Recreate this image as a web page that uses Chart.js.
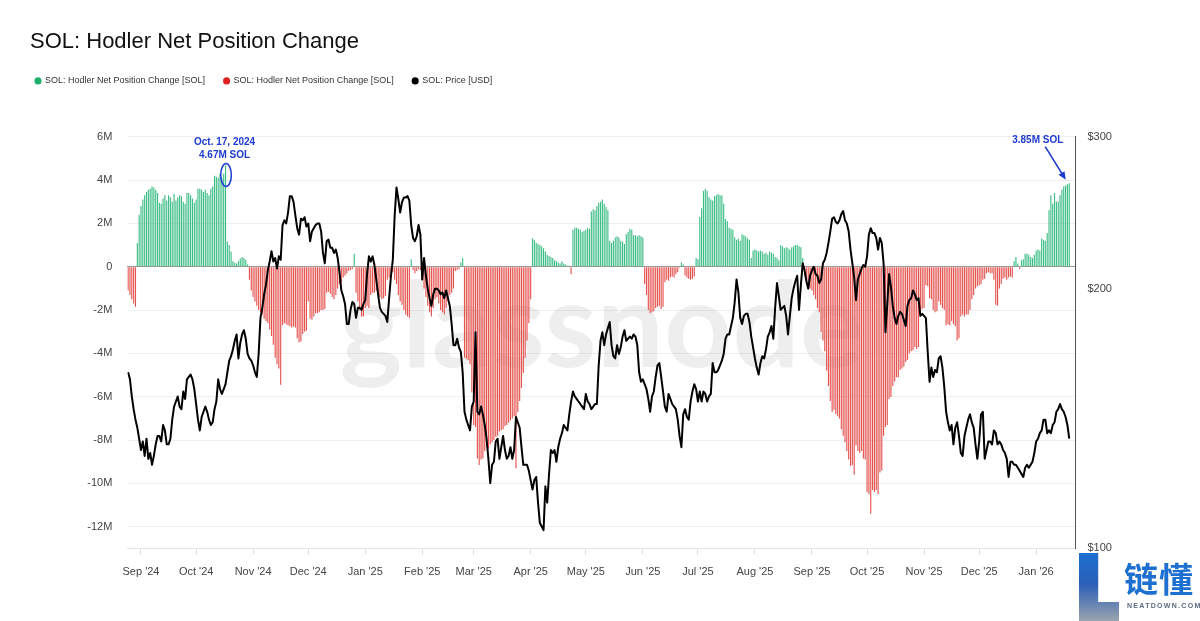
<!DOCTYPE html>
<html lang="en">
<head>
<meta charset="utf-8">
<title>SOL: Hodler Net Position Change</title>
<script src="https://cdn.jsdelivr.net/npm/chart.js@4.4.1/dist/chart.umd.min.js"></script>
<style>
	html, body { margin:0; padding:0; background:#fff; }
	#wrap { position:relative; width:1200px; height:621px; overflow:hidden; }
	#chart { display:block; }
	.brand-l { position:absolute; left:1079px; top:553px; width:40px; height:68px;
		background:linear-gradient(180deg, #1f6fd1 0%, #2a5fb8 45%, #9aa3ad 100%);
		clip-path:polygon(0 0, 48% 0, 48% 72%, 100% 72%, 100% 100%, 0 100%); }
	.brand-cn { position:absolute; left:1124px; top:556px; font:700 34px "Noto Sans CJK SC", sans-serif; color:#1d6fd0; letter-spacing:1px; line-height:44px; }
	.brand-en { position:absolute; left:1127px; top:602px; font:700 7px "Liberation Sans", Arial, sans-serif; color:#5b6b80; letter-spacing:1.3px; }
</style>
</head>
<body>
<div id="wrap">
	<canvas id="chart" width="1200" height="621"></canvas>
	<div class="brand-l"></div>
	<div class="brand-cn">链懂</div>
	<div class="brand-en">NEATDOWN.COM</div>
</div>
<script>
// Daily series, first value = Aug 25, 2024 (day -7; day 0 = Sep 1, 2024)
const FIRST_DAY = -7;

// Hodler net position change, million SOL per day
const netChange = [
	-1.1,-1.3,-1.5,-1.7,-1.85,1.1,2.4,
	2.8,3.1,3.3,3.45,3.55,3.6,3.7,3.65,3.55,3.4,
	2.95,2.9,3.15,3.3,3.05,3.3,3.2,3.0,3.35,3.05,
	3.2,3.3,3.25,3.0,2.9,3.4,3.4,3.3,3.15,2.95,
	3.1,3.6,3.6,3.55,3.45,3.55,3.4,3.3,3.6,3.7,
	4.2,4.15,4.1,4.3,4.1,4.3,4.67,1.15,1.0,0.7,
	0.25,0.18,0.15,0.25,0.38,0.45,0.4,0.32,0.1,-0.6,
	-1.1,-1.4,-1.6,-1.8,-2.0,-2.1,-2.2,-2.4,-2.5,-2.6,
	-2.9,-3.2,-3.6,-4.2,-4.5,-4.7,-5.45,-2.7,-2.6,-2.65,
	-2.7,-2.75,-2.8,-2.75,-2.8,-3.3,-3.5,-3.45,-3.1,-3.0,
	-2.95,-1.6,-2.4,-2.45,-2.3,-2.15,-2.15,-2.1,-2.0,-2.0,
	-1.95,-1.2,-1.15,-1.25,-1.4,-1.5,-1.3,-1.0,-0.8,-0.7,
	-0.5,-0.4,-0.3,-0.2,-0.15,-0.1,0.6,-1.2,-1.6,-2.0,
	-2.3,-2.3,-1.9,-1.8,-1.9,-1.3,-1.2,-1.2,-1.1,-1.3,
	-1.4,-1.5,-1.45,-1.35,-0.6,-0.5,-0.3,-0.25,-0.6,-0.8,
	-1.3,-1.6,-1.75,-2.0,-2.2,-2.3,-2.35,0.35,-0.15,-0.3,
	-0.2,-0.1,-0.15,-0.6,-1.0,-1.4,-1.8,-2.1,-2.3,-1.9,
	-1.5,-1.4,-1.7,-2.0,-2.1,-2.2,-1.9,-1.6,-1.3,-1.2,
	-1.0,-0.2,-0.15,-0.1,0.2,0.4,-4.2,-4.25,-4.3,-4.5,
	-5.8,-7.3,-7.4,-8.85,-9.15,-8.9,-8.85,-8.5,-8.3,-8.4,
	-8.2,-8.1,-8.0,-7.85,-7.8,-7.6,-7.55,-7.5,-7.35,-7.3,
	-7.2,-7.1,-7.0,-6.9,-9.3,-6.7,-6.2,-5.6,-4.9,-4.2,
	-3.4,-2.6,-1.5,1.3,1.25,1.1,1.05,1.0,0.95,0.85,
	0.7,0.55,0.5,0.45,0.4,0.3,0.25,0.2,0.15,0.25,
	0.15,0.1,0.05,0.05,-0.35,1.7,1.8,1.8,1.75,1.7,
	1.6,1.65,1.7,1.8,1.75,2.55,2.65,2.6,2.8,2.95,
	3.0,3.1,2.9,2.75,2.6,1.2,1.1,1.2,1.35,1.4,
	1.35,1.2,1.15,1.05,1.5,1.6,1.75,1.7,1.45,1.45,
	1.4,1.45,1.4,1.35,-0.8,-1.3,-2.0,-2.15,-2.1,-2.05,
	-1.9,-1.85,-1.8,-1.95,-1.85,-0.7,-0.6,-0.65,-0.5,-0.45,
	-0.5,-0.35,-0.25,-0.05,0.2,0.1,-0.4,-0.5,-0.55,-0.6,
	-0.55,-0.45,0.4,0.35,2.3,2.7,3.5,3.6,3.5,3.2,
	3.1,3.05,3.25,3.3,3.35,3.3,3.3,2.9,2.2,2.1,
	1.8,1.75,1.7,1.35,1.25,1.3,1.2,1.5,1.45,1.4,
	1.3,1.25,0.4,0.75,0.8,0.75,0.7,0.75,0.7,0.6,
	0.65,0.55,0.7,0.65,0.6,0.45,0.4,0.3,1.0,0.95,
	0.85,0.9,0.85,0.8,0.9,0.95,1.0,1.0,0.95,0.9,
	0.4,-0.4,-0.6,-0.8,-1.0,-1.1,-1.3,-1.5,-1.9,-2.1,
	-3.0,-3.4,-3.9,-4.8,-5.5,-6.2,-6.7,-6.6,-6.8,-6.9,
	-7.0,-7.5,-7.8,-8.1,-8.5,-8.9,-9.2,-9.15,-9.6,-8.25,
	-8.5,-8.6,-8.5,-8.85,-8.9,-10.4,-10.5,-11.4,-10.3,-10.4,
	-10.3,-10.5,-9.5,-9.4,-7.8,-7.4,-7.3,-6.1,-6.0,-5.5,
	-5.3,-5.1,-5.1,-4.75,-4.7,-4.6,-4.4,-4.3,-4.0,-3.9,
	-3.85,-3.7,-3.8,-3.7,-2.1,-1.95,-1.9,-0.85,-0.9,-1.45,
	-1.5,-2.0,-2.1,-2.05,-1.6,-1.75,-1.9,-2.0,-2.7,-2.65,
	-2.7,-2.5,-2.65,-2.75,-3.4,-3.3,-2.3,-2.2,-2.3,-2.2,
	-2.2,-2.0,-1.5,-1.3,-1.0,-0.9,-0.85,-0.8,-0.6,-0.55,
	-0.3,-0.25,-0.3,-0.3,-0.6,-1.75,-1.8,-1.0,-0.8,-0.55,
	-0.5,-0.6,-0.5,-0.45,-0.5,0.25,0.45,0.15,-0.1,0.3,
	0.35,0.6,0.6,0.55,0.45,0.4,0.55,0.75,0.8,0.75,
	1.3,1.25,1.2,1.55,2.6,3.3,2.9,3.4,3.0,3.0,
	3.3,3.55,3.7,3.75,3.8,3.85
];

// SOL price, USD
const price = [
	160,157,150,145,141,138,134,
	130,133,128,134,127,129,125,128,132,135,
	135,133,139,137,132,132,134,141,146,148,
	150,146,145,152,149,157,158,159,157,153,
	147,141,137,142,144,146,144,141,139,140,
	145,148,157,153,151,153,155,160,165,167,
	170,174,177,166,173,177,179,175,168,166,
	165,163,160,158,168,185,190,197,202,210,
	215,221,215,217,211,218,216,237,240,238,
	245,256,256,252,243,235,231,241,240,242,
	236,238,227,233,235,237,238,238,233,220,
	214,227,228,223,223,220,222,217,209,199,
	196,192,182,182,189,193,192,185,190,190,
	189,192,194,208,218,215,218,213,205,197,
	190,188,187,186,183,195,207,216,243,262,
	254,245,252,255,255,256,253,237,229,227,
	230,237,231,205,217,207,200,195,191,197,
	200,200,199,197,198,195,199,195,191,182,
	172,172,175,171,169,160,144,141,139,137,
	146,148,178,144,143,146,143,139,134,127,
	119,125,126,133,134,127,131,135,130,127,
	128,131,127,130,142,140,138,131,125,125,
	125,123,120,117,120,121,113,107,106,105,
	118,113,122,130,129,130,126,131,134,136,
	139,138,137,143,148,152,150,149,148,147,
	146,145,151,148,147,145,146,147,147,163,
	174,178,172,177,180,183,172,167,166,172,
	168,171,176,179,174,175,176,175,177,176,
	172,160,156,157,155,153,149,144,150,152,
	158,163,164,158,152,146,144,151,149,147,
	146,145,141,135,131,143,145,142,141,148,
	152,155,153,148,152,148,152,151,148,150,
	151,164,160,160,161,163,165,168,175,177,
	177,181,185,193,205,198,185,182,186,187,
	187,183,176,171,166,162,159,164,167,166,
	170,176,178,181,175,190,203,196,189,190,
	191,186,177,186,195,200,204,207,189,202,
	214,210,204,200,207,210,212,208,207,203,
	205,214,216,220,226,233,241,242,239,238,
	240,244,246,240,238,233,222,214,206,194,
	205,208,211,213,212,218,231,235,232,232,
	229,222,229,226,214,178,192,208,201,191,
	185,182,186,188,187,184,181,191,194,195,
	199,197,194,195,186,187,186,185,169,156,
	162,158,161,160,166,167,162,154,144,140,
	137,139,132,138,140,135,129,128,135,138,
	141,143,140,138,132,127,133,143,144,127,
	130,133,133,132,137,136,132,133,132,130,
	129,127,121,126,126,125,125,124,123,122,
	121,124,125,124,125,126,129,133,134,136,
	137,141,141,136,137,136,139,140,144,145,
	147,145,144,142,139,134
];

// x axis: month starts (days from Sep 1, 2024) and their labels
const monthDays = [0,30,61,91,122,153,181,212,242,273,303,334,365,395,426,456,487];
const monthLabels = ["Sep '24","Oct '24","Nov '24","Dec '24","Jan '25","Feb '25","Mar '25","Apr '25","May '25","Jun '25","Jul '25","Aug '25","Sep '25","Oct '25","Nov '25","Dec '25","Jan '26"];
const leftTicks = [-12,-10,-8,-6,-4,-2,0,2,4,6]; // million SOL
const rightTicks = [100,200,300]; // USD

// callouts: the day they point at
const peakDay = 46;   // Oct 17, 2024
const lastDay = 505;  // latest reading

(function(){
	const FONT = '"Liberation Sans", Arial, Helvetica, sans-serif';
	const GREEN = '#3dbd85';
	const RED = '#e5534f';
	const BLUE = '#1d3bd0';
	// legend dots are drawn a bit stronger than the thin bars
	const LEGEND_DOTS = ['#1fb06c', '#e0201e', '#000'];

	const days = netChange.map((_, i) => FIRST_DAY + i);
	const gainPts = days.map((d, i) => ({ x:d, y: netChange[i] > 0 ? netChange[i] * 1e6 : null }));
	const lossPts = days.map((d, i) => ({ x:d, y: netChange[i] < 0 ? netChange[i] * 1e6 : null }));
	const pricePts = days.map((d, i) => ({ x:d, y: price[i] }));

	// extra room under the legend, and nudge it left of the title edge
	const legendSpacing = {
		id: 'legendSpacing',
		beforeInit(chart){
			const fit = chart.legend.fit;
			chart.legend.fit = function(){
				fit.call(this);
				this.height = 79.3;
			};
		},
		afterLayout(chart){
			chart.legend.left -= 13.5;
		}
	};

	// faint "glassnode" mark behind the bars
	const watermark = {
		id: 'watermark',
		beforeDatasetsDraw(chart){
			const { ctx, chartArea:a } = chart;
			ctx.save();
			ctx.font = '700 100px Lato, "Noto Sans", sans-serif';
			const w = ctx.measureText('glassnode').width;
			ctx.font = '700 ' + (100 * 524 / w).toFixed(1) + 'px Lato, "Noto Sans", sans-serif';
			ctx.fillStyle = 'rgba(0,0,0,0.065)';
			ctx.textAlign = 'center';
			ctx.textBaseline = 'alphabetic';
			ctx.fillText('glassnode', (a.left + a.right) / 2, a.top + a.height * 0.56);
			ctx.restore();
		}
	};

	// blue callouts
	const callouts = {
		id: 'callouts',
		afterDatasetsDraw(chart){
			const { ctx, chartArea:a, scales:{ x, y } } = chart;
			const peakIdx = peakDay - FIRST_DAY, lastIdx = lastDay - FIRST_DAY;
			ctx.save();
			ctx.fillStyle = BLUE;
			ctx.strokeStyle = BLUE;
			ctx.font = 'bold 10px ' + FONT;
			ctx.textAlign = 'center';
			ctx.textBaseline = 'middle';

			const px = x.getPixelForValue(peakDay);
			const py = y.getPixelForValue(netChange[peakIdx] * 1e6);
			ctx.fillText('Oct. 17, 2024', px - 1, a.top + 6);
			ctx.fillText(netChange[peakIdx].toFixed(2) + 'M SOL', px - 1, a.top + 18.5);
			ctx.lineWidth = 1.5;
			ctx.beginPath();
			ctx.ellipse(px + 0.5, py + 9.5, 5.3, 11.5, 0, 0, Math.PI * 2);
			ctx.stroke();

			const lx = x.getPixelForValue(lastDay);
			const ly = y.getPixelForValue(netChange[lastIdx] * 1e6);
			ctx.fillText(netChange[lastIdx].toFixed(2) + 'M SOL', lx - 31.5, a.top + 3.5);
			const x0 = lx - 24, y0 = a.top + 10, x1 = lx - 3.5, y1 = ly - 3.5;
			const ang = Math.atan2(y1 - y0, x1 - x0);
			ctx.lineWidth = 1.6;
			ctx.beginPath();
			ctx.moveTo(x0, y0);
			ctx.lineTo(x1 - 6 * Math.cos(ang), y1 - 6 * Math.sin(ang));
			ctx.stroke();
			ctx.beginPath();
			ctx.moveTo(x1, y1);
			ctx.lineTo(x1 - 8 * Math.cos(ang) + 3.5 * Math.sin(ang), y1 - 8 * Math.sin(ang) - 3.5 * Math.cos(ang));
			ctx.lineTo(x1 - 8 * Math.cos(ang) - 3.5 * Math.sin(ang), y1 - 8 * Math.sin(ang) + 3.5 * Math.cos(ang));
			ctx.closePath();
			ctx.fill();
			ctx.restore();
		}
	};

	new Chart(document.getElementById('chart'), {
		type: 'bar',
		data: {
			datasets: [
				{ label:'SOL: Hodler Net Position Change [SOL]', data:gainPts, backgroundColor:GREEN, yAxisID:'y', grouped:false, barPercentage:0.62, categoryPercentage:1, order:1 },
				{ label:'SOL: Hodler Net Position Change [SOL]', data:lossPts, backgroundColor:RED, yAxisID:'y', grouped:false, barPercentage:0.62, categoryPercentage:1, order:1 },
				{ type:'line', label:'SOL: Price [USD]', data:pricePts, yAxisID:'y1', borderColor:'#000', backgroundColor:'#000', borderWidth:2, pointRadius:0, tension:0, borderJoinStyle:'round', fill:false, order:0 }
			]
		},
		options: {
			responsive: false,
			animation: false,
			devicePixelRatio: 1,
			layout: { padding:{ left:30, right:0, top:0, bottom:0 } },
			plugins: {
				title: {
					display: true, text: 'SOL: Hodler Net Position Change', align: 'start', color: '#111',
					font: { family:FONT, size:22, weight:'normal' }, padding: { top:28.5, bottom:2.5 }
				},
				legend: {
					display: true, align: 'start',
					labels: {
						usePointStyle: true, pointStyle: 'circle', boxWidth: 5, boxHeight: 5, padding: 19,
						color: '#333', font: { family:FONT, size:9 },
						sort: (a, b) => a.datasetIndex - b.datasetIndex,
						generateLabels(chart){
							const items = Chart.defaults.plugins.legend.labels.generateLabels(chart);
							items.forEach(it => { it.lineWidth = 0; it.fillStyle = LEGEND_DOTS[it.datasetIndex]; });
							return items;
						}
					}
				},
				tooltip: { enabled:false }
			},
			scales: {
				x: {
					type: 'linear', min: -7.45, max: 508.4, offset: false,
					afterBuildTicks: axis => { axis.ticks = monthDays.map(v => ({ value:v })); },
					afterFit: axis => { axis.height = 72.6; },
					ticks: { autoSkip:false, maxRotation:0, padding:11, color:'#444', font:{ family:FONT, size:11 },
						callback: v => monthLabels[monthDays.indexOf(v)] },
					grid: { offset:false, drawOnChartArea:false, drawTicks:true, tickLength:6, color:'#dcdcdc' },
					border: { display:true, color:'#e3e3e3' }
				},
				y: {
					position: 'left', min: -13e6, max: 6e6,
					afterBuildTicks: axis => { axis.ticks = leftTicks.map(v => ({ value:v * 1e6 })); },
					afterFit: axis => { axis.width = 97.3; },
					ticks: { padding:15, color:'#444', font:{ family:FONT, size:11 },
						callback: v => v === 0 ? '0' : (v / 1e6) + 'M' },
					grid: { drawTicks:false, color: c => (c.tick && c.tick.value === 0) ? '#9a9a9a' : '#efefef' },
					border: { display:false }
				},
				y1: {
					type: 'logarithmic', position: 'right', min: 100, max: 300,
					afterBuildTicks: axis => { axis.ticks = rightTicks.map(v => ({ value:v })); },
					afterFit: axis => { axis.width = 124.5; },
					ticks: { padding:12, color:'#444', font:{ family:FONT, size:11 }, callback: v => '$' + v },
					grid: { drawOnChartArea:false, drawTicks:false },
					border: { display:true, color:'#555', width:1 }
				}
			}
		},
		plugins: [legendSpacing, watermark, callouts]
	});
})();
</script>
</body>
</html>
